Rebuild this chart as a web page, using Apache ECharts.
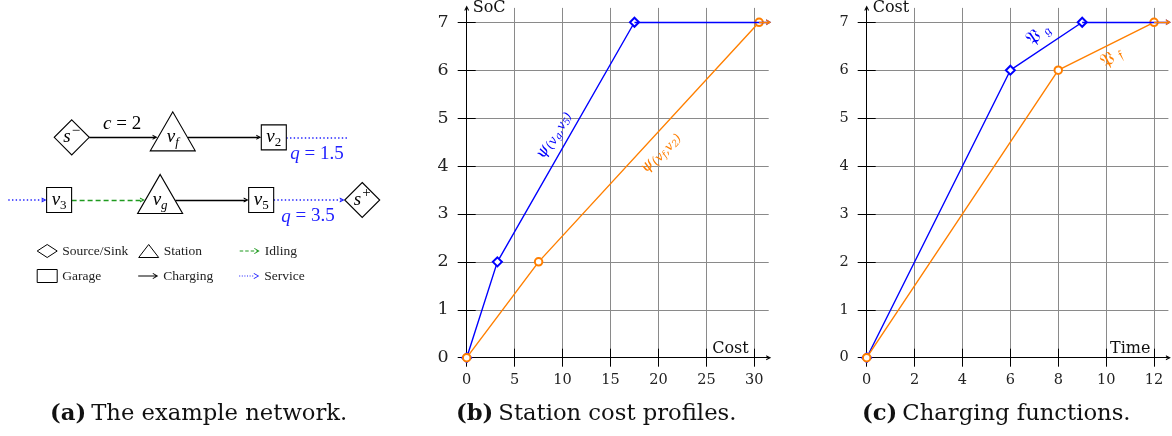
<!DOCTYPE html>
<html>
<head>
<meta charset="utf-8">
<script src="https://cdn.jsdelivr.net/npm/echarts@6/dist/echarts.min.js"></script>
<style>
  html, body { margin: 0; padding: 0; background: #fff; }
  #main { width: 1172px; height: 436px; }
</style>
</head>
<body>
<div id="main"></div>
<script>
// ---------------- data ----------------
// (b) station cost profiles, [cost, SoC]
const profileVg = [[0, 0], [3.2, 2], [17.5, 7]];
const profileVf = [[0, 0], [7.5, 2], [30.5, 7]];
// (c) charging functions, [time, cost]
const chargeG = [[0, 0], [6, 6], [9, 7]];
const chargeF = [[0, 0], [8, 6], [12, 7]];

const costTicks = [0, 5, 10, 15, 20, 25, 30];
const timeTicks = [0, 2, 4, 6, 8, 10, 12];
const levelTicks = [0, 1, 2, 3, 4, 5, 6, 7];

// (a) example network: node layout in diagram units
const nodeIds   = ['s-', 'vf', 'v2', 'v3', 'vg', 'v5', 's+'];
const nodeKinds = ['Source/Sink', 'Station', 'Garage', 'Garage', 'Station', 'Garage', 'Source/Sink'];
const nodeCols  = [0, 1, 2, -0.125, 0.875, 1.875, 2.875];
const nodeRows  = [0, 0, 0, -0.62, -0.62, -0.62, -0.62];
const nodeTexts = ['{m|s}{sup|−}', '{m|v}{sub|f}', '{m|v}{subn|2}', '{m|v}{subn|3}',
                   '{m|v}{sub|g}', '{m|v}{subn|5}', '{m|s}{sup|+}'];

// arcs; null = the arc leaves / enters the drawn part of the network
const edgeFrom  = ['s-', 'vf', 'v2', null, 'v3', 'vg', 'v5'];
const edgeTo    = ['vf', 'v2', null, 'v3', 'vg', 'v5', 's+'];
const edgeKinds = ['Charging', 'Charging', 'Service', 'Service', 'Idling', 'Charging', 'Service'];
const edgeTexts = ['{i|c}{n| = 2}', '', '{i|q}{n| = 1.5}', '', '', '', '{i|q}{n| = 3.5}'];
const looseEnds = { 2: [2.73, 0], 3: [-0.628, -0.62] };

const nodeKindNames = ['Source/Sink', 'Station', 'Garage'];
const edgeKindNames = ['Charging', 'Idling', 'Service'];
const legendOrder = ['Source/Sink', 'Station', 'Idling', 'Garage', 'Charging', 'Service'];

// ---------------- styles ----------------
const BLUE = '#0000ff';
const ORANGE = '#ff7f00';
const GREEN = '#1f9a1f';
const SERVICE_BLUE = '#2020ff';
const GRID_GREY = '#8a8a8a';
const SERIF = '"DejaVu Serif", serif';
const SERIF_A = '"Liberation Serif", serif';
const MATH = '"DejaVu Serif", "DejaVu Sans", "Noto Sans", serif';

const ARROW = 'path://M0,10 L5,0 L10,10 L7.6,10 L5,4.8 L2.4,10 Z';
const ICON_SOLID = 'path://M0,2.6 H18 V3.4 H0 Z M14.8,0 L20,3 L14.8,6 L14.4,5.3 L18.4,3 L14.4,0.7 Z';
const ICON_DASH = 'path://M0,2.6 H3.5 V3.4 H0 Z M5.5,2.6 H9 V3.4 H5.5 Z M11,2.6 H14.5 V3.4 H11 Z M16.5,2.6 H18 V3.4 H16.5 Z M14.8,0 L20,3 L14.8,6 L14.4,5.3 L18.4,3 L14.4,0.7 Z';
const ICON_DOT = 'path://M0,2.5 H1 V3.5 H0 Z M2.6,2.5 H3.6 V3.5 H2.6 Z M5.2,2.5 H6.2 V3.5 H5.2 Z M7.8,2.5 H8.8 V3.5 H7.8 Z M10.4,2.5 H11.4 V3.5 H10.4 Z M13,2.5 H14 V3.5 H13 Z M14.8,0 L20,3 L14.8,6 L14.4,5.3 L18.4,3 L14.4,0.7 Z';

const nodeShapes = {
  'Source/Sink': { symbol: 'diamond', size: 35, offset: [0, 0], half: 17.5 },
  'Station':     { symbol: 'triangle', size: [45, 39], offset: [0, -6], half: 15.2 },
  'Garage':      { symbol: 'rect', size: 25, offset: [0, 0], half: 12.5 }
};
const edgeStyles = {
  Charging: { color: '#000', type: 'solid', width: 1.3 },
  Idling:   { color: GREEN, type: [5, 3], width: 1.4 },
  Service:  { color: SERVICE_BLUE, type: [1.4, 2.3], width: 1.5 }
};
const legendIcons = {
  'Source/Sink': 'diamond', 'Station': 'triangle', 'Garage': 'rect',
  'Charging': ICON_SOLID, 'Idling': ICON_DASH, 'Service': ICON_DOT
};

// ---------------- layout of the three panels ----------------
const DIAG_GRID = { left: 0, top: 0, width: 390, height: 300 };
const DIAG_X = [-0.71, 3.15];
const DIAG_Y = [-1.61, 1.36];
const unitPx = DIAG_GRID.width / (DIAG_X[1] - DIAG_X[0]);
const ARROW_LEN = 5;

const B_GRID = { left: 466.7, top: 7.9, width: 302, height: 349.8 };
const C_GRID = { left: 866.7, top: 7.9, width: 301.7, height: 349.8 };
const B_X_MAX = 31.5, C_X_MAX = 12.6, Y_MAX = 7.3;

// ---------------- network ----------------
function nodeIndex(id) { return nodeIds.indexOf(id); }

const nodeSeries = nodeKindNames.map(function (kind) {
  const shape = nodeShapes[kind];
  const data = [];
  nodeIds.forEach(function (id, i) {
    if (nodeKinds[i] === kind) data.push({ value: [nodeCols[i], nodeRows[i]], text: nodeTexts[i] });
  });
  return {
    type: 'scatter', name: kind, xAxisIndex: 0, yAxisIndex: 0, z: 5, silent: true,
    symbol: shape.symbol, symbolSize: shape.size, symbolOffset: shape.offset,
    itemStyle: { color: '#fff', borderColor: '#000', borderWidth: 1.1, opacity: 1 },
    label: {
      show: true, position: 'inside', offset: [0, -shape.offset[1]],
      formatter: function (p) { return p.data.text; },
      rich: {
        m: { fontFamily: SERIF_A, fontStyle: 'italic', fontSize: 19, color: '#000' },
        sub: { fontFamily: SERIF_A, fontStyle: 'italic', fontSize: 13, color: '#000', padding: [11, 0, 0, 0] },
        subn: { fontFamily: SERIF_A, fontSize: 13, color: '#000', padding: [11, 0, 0, 0] },
        sup: { fontFamily: SERIF_A, fontSize: 15, color: '#000', padding: [0, 0, 13, 1] }
      }
    },
    data: data
  };
});

function edgeItem(k) {
  const fi = edgeFrom[k] ? nodeIndex(edgeFrom[k]) : -1;
  const ti = edgeTo[k] ? nodeIndex(edgeTo[k]) : -1;
  const hasArrow = ti >= 0 || edgeFrom[k] === null;
  let start, end;
  if (fi >= 0) start = [nodeCols[fi] + nodeShapes[nodeKinds[fi]].half / unitPx, nodeRows[fi]];
  else start = looseEnds[k];
  if (ti >= 0) end = [nodeCols[ti] - (nodeShapes[nodeKinds[ti]].half + ARROW_LEN / 2) / unitPx, nodeRows[ti]];
  else end = looseEnds[k];
  const item = { coords: [start, end], symbol: hasArrow ? ['none', ARROW] : ['none', 'none'] };
  if (edgeTexts[k]) {
    const blue = edgeKinds[k] === 'Service';
    const color = blue ? SERVICE_BLUE : '#000';
    item.label = {
      show: true,
      position: blue ? 'insideMiddleBottom' : 'insideMiddleTop',
      distance: blue ? 7 : 4,
      formatter: edgeTexts[k],
      rich: {
        i: { fontFamily: SERIF_A, fontStyle: 'italic', fontSize: 19, color: color },
        n: { fontFamily: SERIF_A, fontSize: 19, color: color }
      }
    };
  }
  return item;
}

const edgeSeries = edgeKindNames.map(function (kind) {
  const data = [];
  edgeKinds.forEach(function (k, i) { if (k === kind) data.push(edgeItem(i)); });
  const st = edgeStyles[kind];
  return {
    type: 'lines', name: kind, coordinateSystem: 'cartesian2d', xAxisIndex: 0, yAxisIndex: 0,
    z: 3, silent: true, polyline: false,
    symbol: ['none', ARROW], symbolSize: [7, ARROW_LEN],
    lineStyle: { color: st.color, type: st.type, width: st.width, opacity: 1, curveness: 0 },
    itemStyle: { color: st.color },
    label: { show: false },
    data: data
  };
});

// ---------------- plots ----------------
// Each plot has its main axes (line, labels, outer ticks, grid) plus a second
// pair of axes placed on the same lines that carries the inner half of each tick.
function plotAxes(gridIndex, grid, xMax, xTicks, yTicks, xName, yName, xNameGap, yLabelSize) {
  const axisLine = { color: '#000', width: 1 };
  const xMain = {
    type: 'value', gridIndex: gridIndex, min: 0, max: xMax, interval: xTicks[1] - xTicks[0],
    position: 'bottom',
    axisLine: { show: true, onZero: false, symbol: ['none', ARROW], symbolSize: [6, 5], lineStyle: axisLine },
    axisTick: { show: true, inside: false, length: 9, customValues: xTicks, lineStyle: axisLine },
    axisLabel: { show: true, customValues: xTicks, margin: 15, fontFamily: SERIF, fontSize: 14.5, color: '#222' },
    splitLine: { show: true, lineStyle: { color: GRID_GREY, width: 1 } },
    name: xName, nameLocation: 'end', nameGap: xNameGap, nameMoveOverlap: false,
    nameTextStyle: { fontFamily: SERIF, fontSize: 16, color: '#111', align: 'right', verticalAlign: 'bottom', padding: [0, 0, 1, 0] }
  };
  const xInner = {
    type: 'value', gridIndex: gridIndex, min: 0, max: xMax, interval: xTicks[1] - xTicks[0],
    position: 'top', offset: -grid.height,
    axisLine: { show: false, onZero: false },
    axisTick: { show: true, inside: false, length: 9, customValues: xTicks, lineStyle: axisLine },
    axisLabel: { show: false },
    splitLine: { show: false }
  };
  const yMain = {
    type: 'value', gridIndex: gridIndex, min: 0, max: Y_MAX, interval: 1,
    position: 'left',
    axisLine: { show: true, onZero: false, symbol: ['none', ARROW], symbolSize: [6, 5], lineStyle: axisLine },
    axisTick: { show: true, inside: false, length: 9, customValues: yTicks, lineStyle: axisLine },
    axisLabel: { show: true, customValues: yTicks, margin: 18, fontFamily: SERIF, fontSize: yLabelSize, color: '#222' },
    splitLine: { show: true, lineStyle: { color: GRID_GREY, width: 1 } },
    name: yName, nameLocation: 'end', nameGap: 0, nameMoveOverlap: false,
    nameTextStyle: { fontFamily: SERIF, fontSize: 16, color: '#111', align: 'left', verticalAlign: 'middle', padding: [0, 0, 0, 6] }
  };
  const yInner = {
    type: 'value', gridIndex: gridIndex, min: 0, max: Y_MAX, interval: 1,
    position: 'right', offset: -grid.width,
    axisLine: { show: false, onZero: false },
    axisTick: { show: true, inside: false, length: 9, customValues: yTicks, lineStyle: axisLine },
    axisLabel: { show: false },
    splitLine: { show: false }
  };
  return { x: [xMain, xInner], y: [yMain, yInner] };
}

const axesB = plotAxes(1, B_GRID, B_X_MAX, costTicks, levelTicks, 'Cost', 'SoC', -20, 17.5);
const axesC = plotAxes(2, C_GRID, C_X_MAX, timeTicks, levelTicks, 'Time', 'Cost', -18, 14.5);

function curveSeries(axisIdx, pts, color, symbol, symbolSize, xMax, labelSeg, labelText, labelPos, rich) {
  const last = pts[pts.length - 1];
  return {
    type: 'line', xAxisIndex: axisIdx, yAxisIndex: axisIdx, z: 4, silent: true, clip: false,
    animation: false,
    data: pts, symbol: symbol, symbolSize: symbolSize, showSymbol: true,
    lineStyle: { color: color, width: 1.4 },
    itemStyle: { color: color, borderColor: color, borderWidth: 1.3 },
    markLine: {
      silent: true, animation: false, symbol: ['none', 'none'], symbolSize: [6, 5],
      label: { show: false },
      data: [
        [
          { coord: last, lineStyle: { color: color, width: 1.4, type: 'solid' } },
          { coord: [xMax, last[1]], symbol: ARROW }
        ],
        [
          {
            coord: pts[labelSeg],
            lineStyle: { color: 'rgba(255,255,255,0)', width: 1, type: 'solid' },
            label: { show: true, position: labelPos, distance: 4, formatter: labelText, rich: rich, color: color }
          },
          { coord: pts[labelSeg + 1] }
        ]
      ]
    }
  };
}

function psiRich(color) {
  return {
    p: { fontFamily: MATH, fontStyle: 'italic', fontSize: 16, color: color },
    s: { fontFamily: MATH, fontStyle: 'italic', fontSize: 12.5, color: color, padding: [7, 0, 0, 0] },
    ss: { fontFamily: MATH, fontStyle: 'italic', fontSize: 9.5, color: color, padding: [12, 0, 0, 0] }
  };
}
function frakRich(color) {
  return {
    p: { fontFamily: MATH, fontSize: 19, color: color },
    s: { fontFamily: MATH, fontSize: 14, color: color, padding: [4, 0, 0, 0] }
  };
}

const plotSeries = [
  curveSeries(1, profileVg, BLUE, 'emptyDiamond', 9, B_X_MAX, 1,
    '{p|ψ}{s|(v}{ss|g}{s|,v}{ss|5}{s|)}', 'insideMiddleTop', psiRich(BLUE)),
  curveSeries(1, profileVf, ORANGE, 'emptyCircle', 7.5, B_X_MAX, 1,
    '{p|ψ}{s|(v}{ss|f}{s|,v}{ss|2}{s|)}', 'insideMiddleBottom', psiRich(ORANGE)),
  curveSeries(3, chargeG, BLUE, 'emptyDiamond', 9, C_X_MAX, 1,
    '{p|𝔓}{s| 𝔤}', 'insideMiddleTop', frakRich(BLUE)),
  curveSeries(3, chargeF, ORANGE, 'emptyCircle', 7.5, C_X_MAX, 1,
    '{p|𝔓}{s| 𝔣}', 'insideMiddleBottom', frakRich(ORANGE))
];

// ---------------- captions ----------------
function caption(left, tag, text) {
  return {
    left: left, top: 401, padding: 0,
    text: '{b|(' + tag + ')} {n|' + text + '}',
    textStyle: {
      fontWeight: 'normal',
      rich: {
        b: { fontFamily: SERIF, fontWeight: 'bold', fontSize: 22.7, color: '#111', lineHeight: 27 },
        n: { fontFamily: SERIF, fontWeight: 'normal', fontSize: 22.7, color: '#111', lineHeight: 27 }
      }
    }
  };
}

const option = {
  backgroundColor: '#fff',
  animation: false,
  title: [
    caption(50, 'a', 'The example network.'),
    caption(456, 'b', 'Station cost profiles.'),
    caption(862, 'c', 'Charging functions.')
  ],
  legend: {
    left: 36.7, top: 243.5, width: 300, padding: 0,
    orient: 'horizontal', selectedMode: false,
    itemWidth: 20, itemHeight: 13, itemGap: 10, symbolKeepAspect: true,
    textStyle: { fontFamily: SERIF_A, fontSize: 13.5, color: '#222', width: 66, lineHeight: 15 },
    data: legendOrder.map(function (name) {
      const isNode = nodeKindNames.indexOf(name) >= 0;
      const st = edgeStyles[name];
      return {
        name: name, icon: legendIcons[name],
        itemStyle: isNode
          ? { color: '#fff', borderColor: '#000', borderWidth: 1 }
          : { color: st.color, borderWidth: 0 }
      };
    })
  },
  grid: [
    Object.assign({ outerBoundsMode: 'none', containLabel: false, show: false }, DIAG_GRID),
    Object.assign({ outerBoundsMode: 'none', containLabel: false, show: false }, B_GRID),
    Object.assign({ outerBoundsMode: 'none', containLabel: false, show: false }, C_GRID)
  ],
  xAxis: [
    { type: 'value', gridIndex: 0, min: DIAG_X[0], max: DIAG_X[1], show: false },
    axesB.x[0], axesB.x[1], axesC.x[0], axesC.x[1]
  ],
  yAxis: [
    { type: 'value', gridIndex: 0, min: DIAG_Y[0], max: DIAG_Y[1], show: false },
    axesB.y[0], axesB.y[1], axesC.y[0], axesC.y[1]
  ],
  series: edgeSeries.concat(nodeSeries, plotSeries)
};

const chart = echarts.init(document.getElementById('main'), null, { renderer: 'canvas' });
chart.setOption(option);
</script>
</body>
</html>
